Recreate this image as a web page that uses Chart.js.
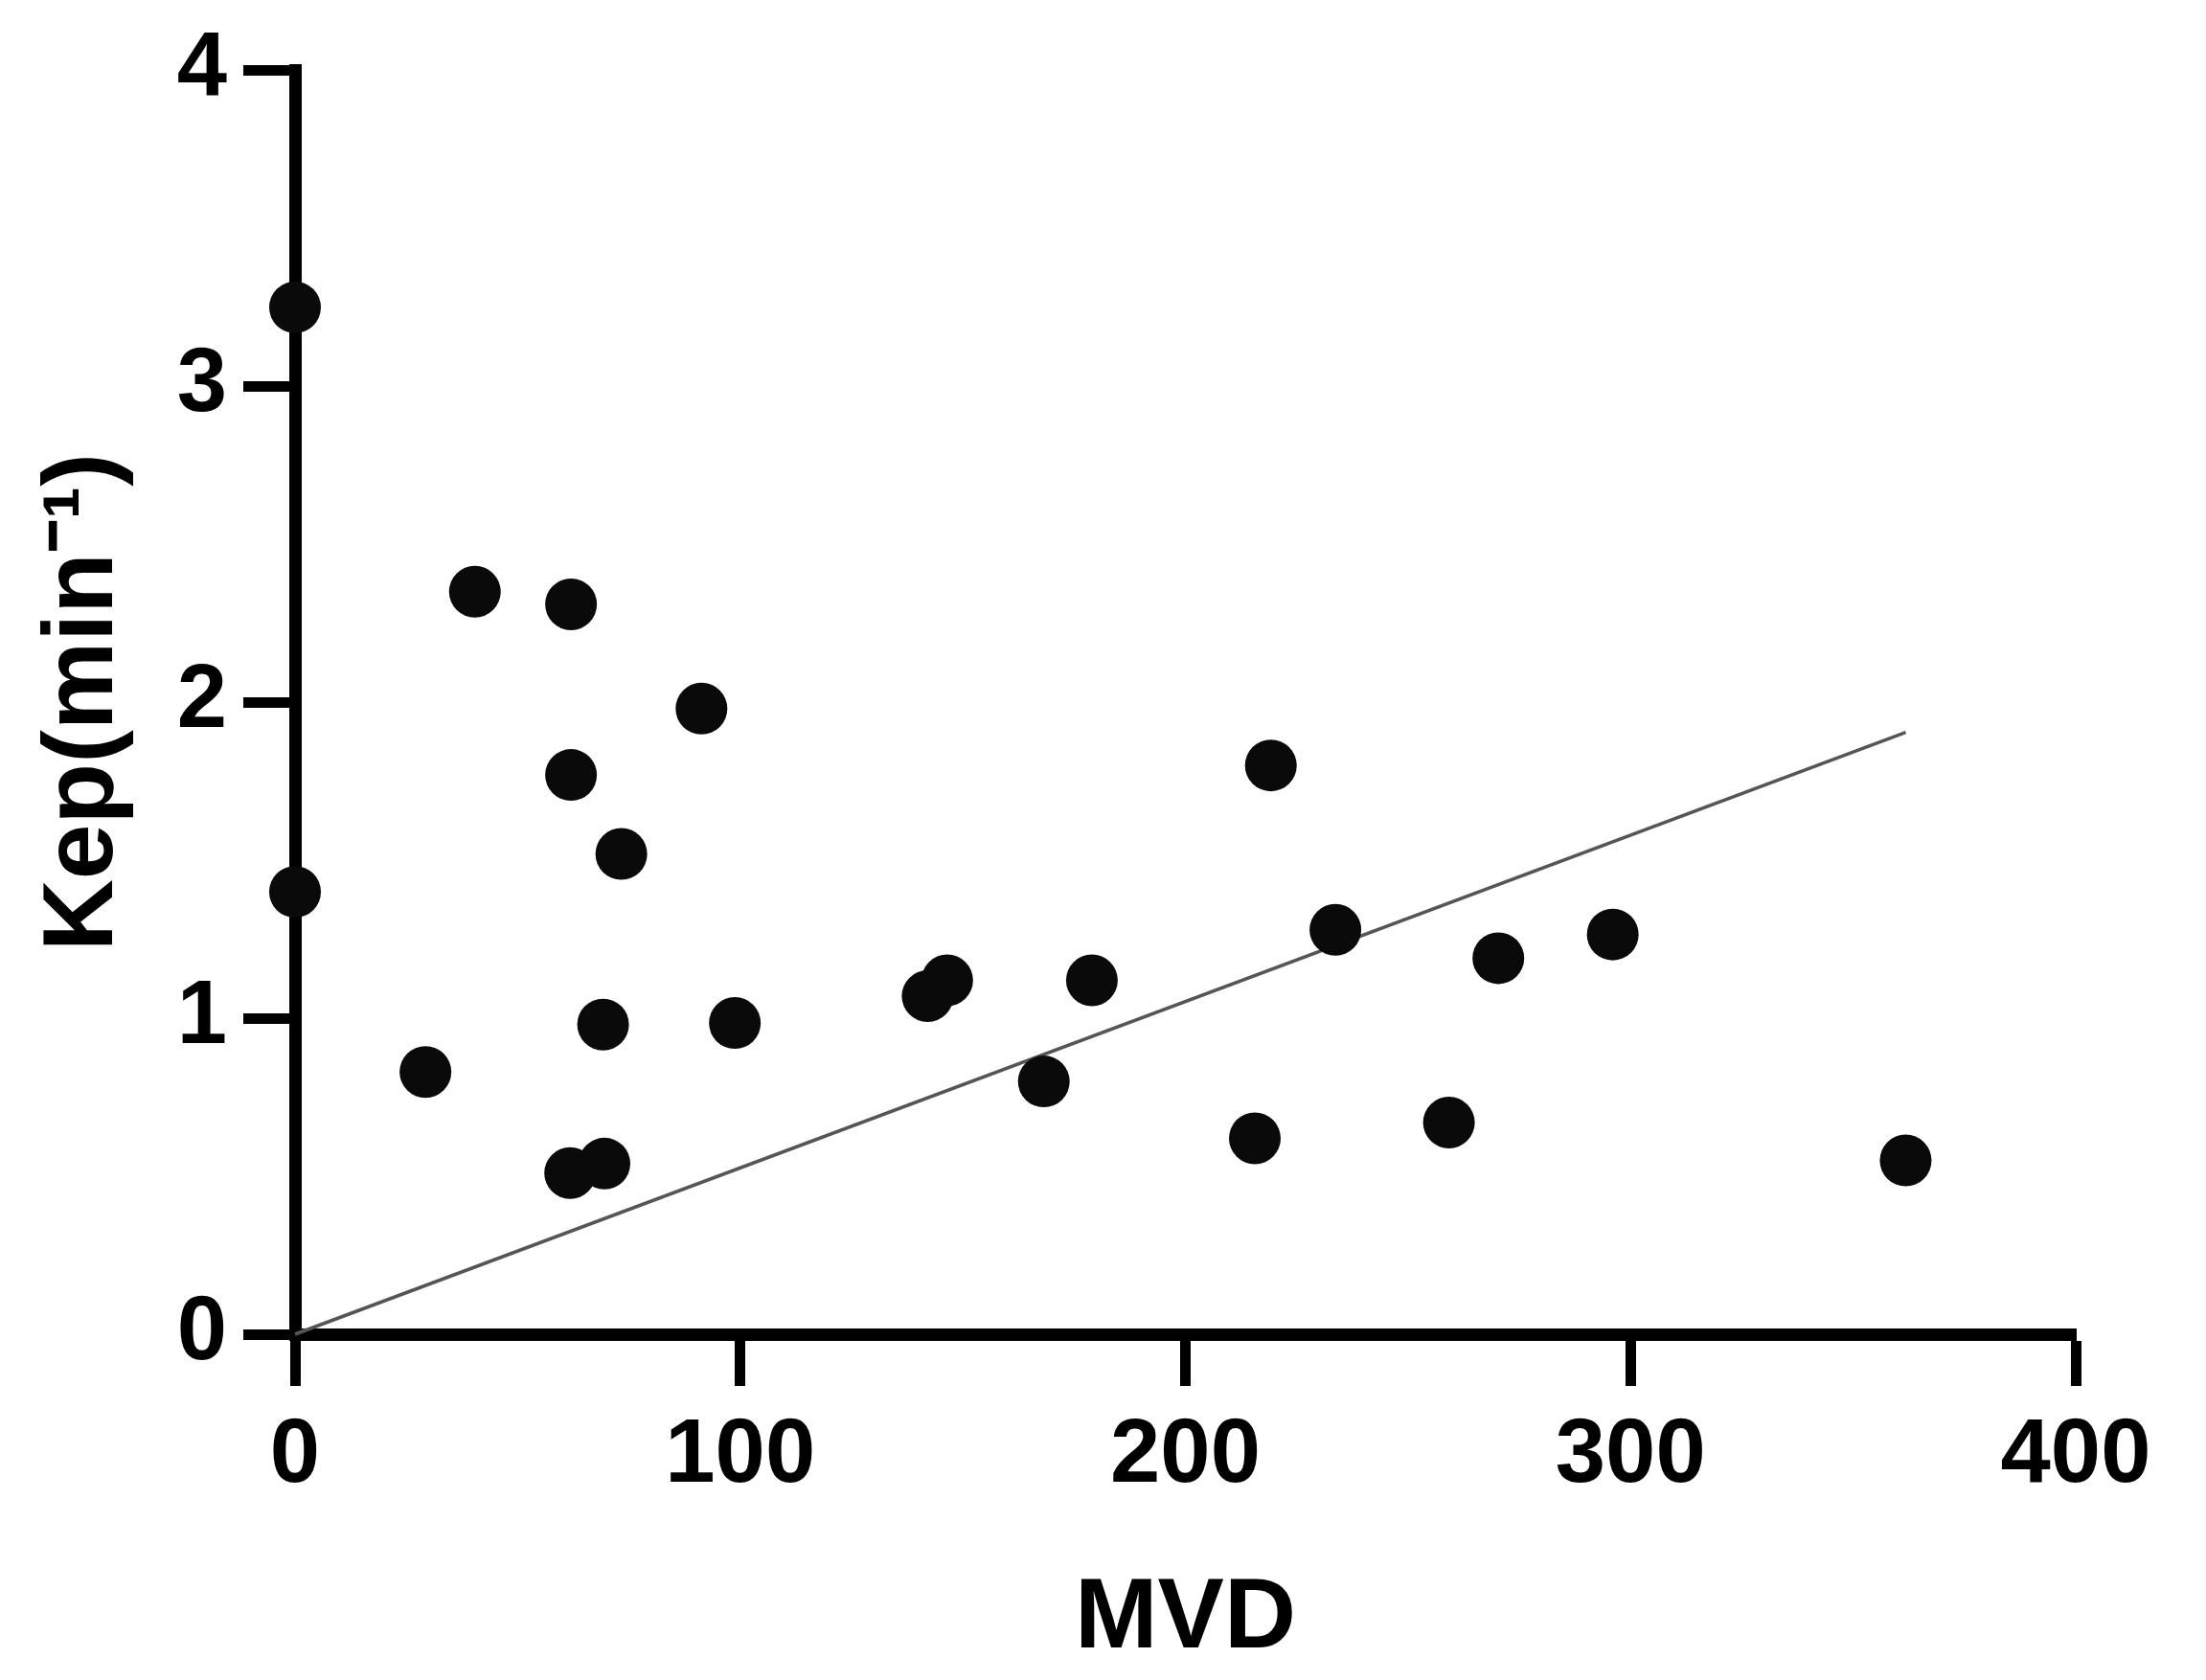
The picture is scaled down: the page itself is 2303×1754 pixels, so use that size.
<!DOCTYPE html>
<html>
<head>
<meta charset="utf-8">
<script src="https://cdn.jsdelivr.net/npm/chart.js@4.4.1/dist/chart.umd.min.js"></script>
<style>
  html, body { margin: 0; padding: 0; background: #fff; }
  #wrap { width: 2303px; height: 1754px; position: relative; }
</style>
</head>
<body>
<div id="wrap"><canvas id="kepChart"></canvas></div>
<script>
// Datos
const mvdValues = [0, 0, 40.4, 62.0, 91.3, 62.0, 73.3, 29.3, 69.2, 98.8, 61.8, 69.5,
  142.1, 146.5, 179.0, 168.2, 219.2, 233.7, 270.3, 296.0, 215.6, 259.2, 361.8];
const kepValues = [3.25, 1.40, 2.35, 2.31, 1.98, 1.77, 1.52, 0.83, 0.98, 0.985, 0.51, 0.54,
  1.07, 1.12, 1.12, 0.80, 1.80, 1.28, 1.19, 1.265, 0.62, 0.67, 0.55];

// Recta de ajuste (pasa por el origen)
const fitX = [0, 361.8];
const fitY = [0, 1.905];

const xTicks = [0, 100, 200, 300, 400];
const yTicks = [0, 1, 2, 3, 4];

const fontFamily = "'Liberation Sans', Arial, sans-serif";

const points = mvdValues.map((x, i) => ({ x: x, y: kepValues[i] }));
const fitLine = fitX.map((x, i) => ({ x: x, y: fitY[i] }));

const axisCommon = {
  type: 'linear',
  grid: {
    drawOnChartArea: false,
    drawTicks: true,
    tickLength: 54,
    tickWidth: 11,
    color: '#000'
  },
  border: { display: true, width: 13, color: '#000' }
};

new Chart(document.getElementById('kepChart'), {
  type: 'scatter',
  data: {
    datasets: [
      {
        label: 'ajuste',
        type: 'line',
        data: fitLine,
        borderColor: '#555555',
        borderWidth: 3.5,
        pointRadius: 0,
        fill: false,
        clip: false,
        order: 2
      },
      {
        label: 'Kep',
        data: points,
        backgroundColor: '#0a0a0a',
        borderColor: '#0a0a0a',
        borderWidth: 0,
        pointRadius: 27,
        clip: false,
        order: 1
      }
    ]
  },
  options: {
    responsive: true,
    maintainAspectRatio: false,
    animation: false,
    layout: { padding: { top: 57, right: 136, left: 0, bottom: 0 } },
    plugins: { legend: { display: false }, tooltip: { enabled: false } },
    scales: {
      x: {
        ...axisCommon,
        min: 0,
        max: 400,
        afterBuildTicks: (scale) => { scale.ticks = xTicks.map(v => ({ value: v })); },
        afterFit: (scale) => { scale.height = 361; },
        ticks: {
          color: '#000',
          padding: 18,
          font: { family: fontFamily, size: 94, weight: 'bold' }
        },
        title: {
          display: true,
          text: 'MVD',
          color: '#000',
          padding: { top: 0, bottom: 0 },
          font: { family: fontFamily, size: 104, weight: 'bold', lineHeight: 1.2 }
        }
      },
      y: {
        ...axisCommon,
        min: 0,
        max: 4,
        afterBuildTicks: (scale) => { scale.ticks = yTicks.map(v => ({ value: v })); },
        afterFit: (scale) => { scale.width = 308; },
        ticks: {
          color: '#000',
          padding: 17,
          font: { family: fontFamily, size: 94, weight: 'bold' }
        },
        title: {
          display: true,
          text: 'Kep(min⁻¹)',
          color: '#000',
          padding: { top: 26, bottom: 0 },
          font: { family: fontFamily, size: 104, weight: 'bold', lineHeight: 1.2 }
        }
      }
    }
  }
});
</script>
</body>
</html>
